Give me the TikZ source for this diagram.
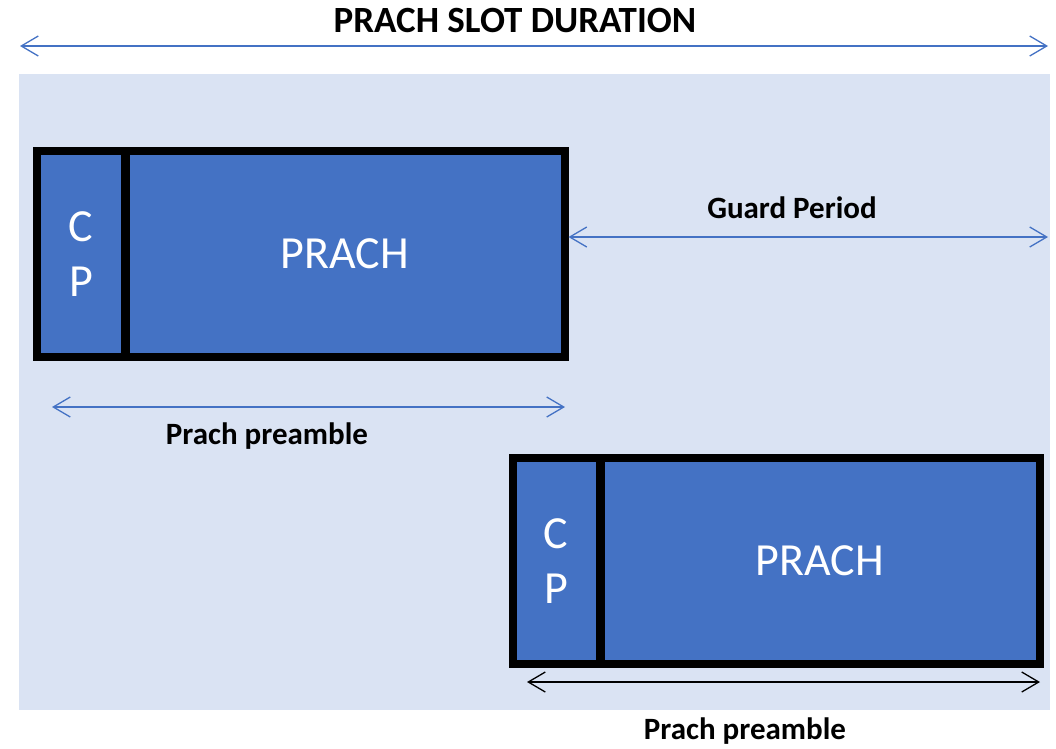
\documentclass[tikz,border=0pt]{standalone}
\usepackage{fontspec}
\setmainfont{Carlito}
\usetikzlibrary{arrows.meta}
\definecolor{slotbg}{HTML}{DAE3F3}
\definecolor{chanblue}{HTML}{4472C4}
\tikzset{
  field/.style={draw=black, line width=8pt, fill=chanblue, inner sep=0pt,
    minimum height=206pt, text=white, align=center,
    font=\fontsize{46}{55}\selectfont},
  span/.style={line width=1.3pt, draw=chanblue,
    {Straight Barb[length=17pt,width=20pt,line width=1.3pt]}-{Straight Barb[length=17pt,width=20pt,line width=1.3pt]}},
  spanblack/.style={span, draw=black},
  caption/.style={font=\bfseries\fontsize{31}{36}\selectfont, inner sep=0pt},
}
\begin{document}
\begin{tikzpicture}[x=1pt, y=-1pt]
  \useasboundingbox (0,0) rectangle (1056,748);
  % slot background
  \fill[slotbg] (19,74) rectangle (1050,710);

  % slot duration
  \node[caption, font=\bfseries\fontsize{37}{42}\selectfont] (title) at (515,20) {PRACH SLOT DURATION};
  \coordinate (slotL) at (20,46);
  \coordinate (slotR) at (1048,46);
  \draw[span] (slotL) -- (slotR);

  % first preamble
  \node[field, minimum width=88pt] (cp1) at (81,254) {C\\P};
  \node[field, minimum width=439pt, text depth=-2pt] (prach1) at (345,254) {PRACH};

  % guard period
  \coordinate (gpR) at (1048,237);
  \draw[span] (prach1.east |- gpR) -- (gpR);
  \node[caption] (gp) at (792,208) {Guard Period};

  % first preamble span
  \coordinate (pa1) at (52,407);
  \coordinate (pb1) at (565,407);
  \draw[span] (pa1) -- (pb1);
  \node[caption] (pl1) at (267,436) {Prach preamble};

  % second preamble
  \node[field, minimum width=87pt] (cp2) at (556,561) {C\\P};
  \node[field, minimum width=439pt, text depth=-2pt] (prach2) at (820,561) {PRACH};

  % second preamble span
  \coordinate (pa2) at (527,682);
  \coordinate (pb2) at (1040,682);
  \draw[spanblack] (pa2) -- (pb2);
  \node[caption] (pl2) at (745,731) {Prach preamble};
\end{tikzpicture}
\end{document}
